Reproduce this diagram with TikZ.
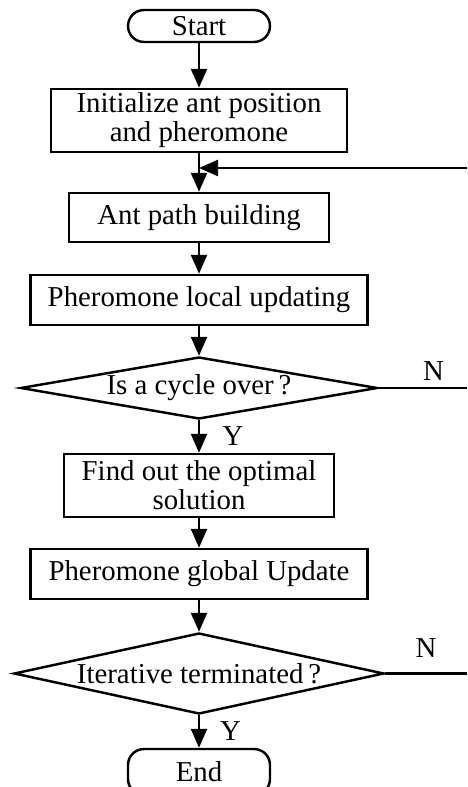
\documentclass[tikz,border=0pt]{standalone}
\usepackage{fontspec}
\setmainfont{Liberation Serif}
\usetikzlibrary{shapes.geometric,arrows.meta,positioning}
\begin{document}
\begin{tikzpicture}[
    line width=1.4pt,
    font=\fontsize{16.4}{16.5}\selectfont,
    arrow/.style={-{Triangle[length=0.38cm, width=0.32cm]}},
    terminal/.style={draw, rounded corners=0.32cm, minimum width=2.84cm, inner sep=0pt},
    process/.style={draw, align=center, inner sep=0pt},
    decision/.style={draw, diamond, inner sep=0pt},
    lbl/.style={inner sep=0pt}
]
    \useasboundingbox (0,0) rectangle (9.34,-15.74);
    % Main column
    \node[terminal, minimum height=0.64cm] (start) at (3.98,-0.52) {Start};
    \node[process, minimum width=5.92cm, minimum height=1.26cm] (init) at (3.98,-2.41) {Initialize ant position\\and pheromone};
    \node[process, minimum width=5.2cm, minimum height=0.98cm] (build) at (3.98,-4.35) {Ant path building};
    \node[process, minimum width=6.74cm, minimum height=1.0cm] (local) at (3.98,-6.0) {Pheromone local updating};
    \node[decision, aspect=5.76, minimum width=7.14cm, minimum height=1.24cm] (cycle) at (3.98,-7.76) {Is a cycle over\,?};
    \node[process, minimum width=5.4cm, minimum height=1.26cm] (find) at (3.98,-9.71) {Find out the optimal\\solution};
    \node[process, minimum width=6.74cm, minimum height=1.0cm] (global) at (3.98,-11.48) {Pheromone global Update};
    \node[decision, aspect=4.57, minimum width=7.4cm, minimum height=1.62cm] (iter) at (3.98,-13.47) {Iterative terminated\,?};
    \node[terminal, minimum height=0.92cm] (end) at (3.98,-15.44) {End};
    % Loop ends at the right edge
    \coordinate (join) at (3.98,-3.36);
    \coordinate (back) at (9.34,-3.36);
    \coordinate (cycleN) at (9.34,-7.76);
    \coordinate (iterN) at (9.34,-13.47);
    % Connectors
    \draw[arrow] (start) -- (init);
    \draw (init) -- (join);
    \draw[arrow] (join) -- (build);
    \draw[arrow] (back) -- (join);
    \draw[arrow] (build) -- (local);
    \draw[arrow] (local) -- (cycle);
    \draw[arrow] (cycle) -- node[lbl, right=0.45cm] {Y} (find);
    \draw (cycle.east) -- node[lbl, pos=0.62, above=0.12cm] {N} (cycleN);
    \draw[arrow] (find) -- (global);
    \draw[arrow] (global) -- (iter);
    \draw[arrow] (iter) -- node[lbl, right=0.4cm] {Y} (end);
    \draw (iter.east) -- node[lbl, pos=0.5, above=0.3cm] {N} (iterN);
\end{tikzpicture}
\end{document}
